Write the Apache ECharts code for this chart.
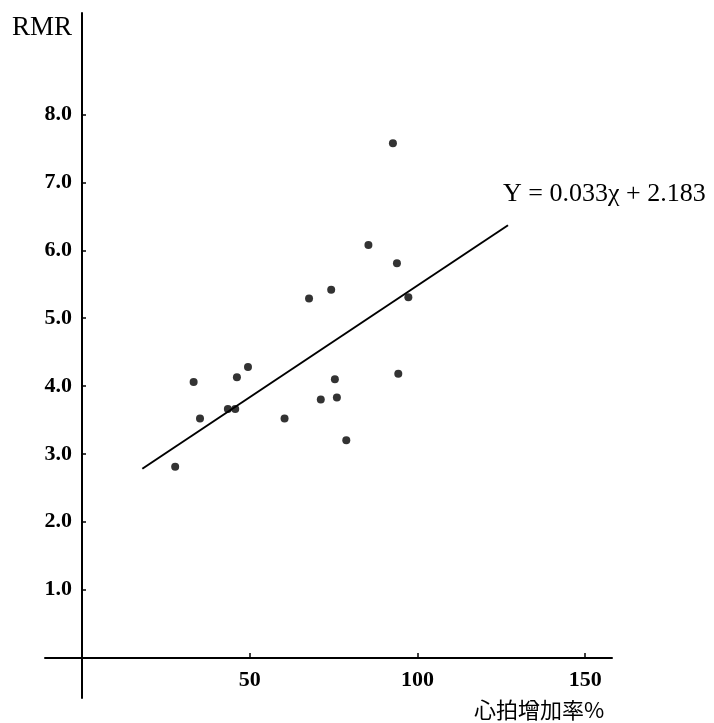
<!DOCTYPE html>
<html>
<head>
<meta charset="utf-8">
<script src="https://cdn.jsdelivr.net/npm/echarts@6/dist/echarts.min.js"></script>
<style>
  html, body { margin: 0; padding: 0; background: #fff; }
  #main { width: 714px; height: 723px; }
</style>
</head>
<body>
<div id="main"></div>
<script>
// 心拍増加率 (%) と RMR の散布データ
var heartRate = [27.8, 33.3, 35.2, 43.5, 45.7, 46.2, 49.5, 60.4, 67.7, 71.2, 74.3, 75.4, 76.0, 78.8, 85.4, 92.7, 93.9, 94.3, 97.3];
var rmr       = [2.81, 4.06, 3.52, 3.66, 3.66, 4.13, 4.28, 3.52, 5.29, 3.80, 5.42, 4.10, 3.83, 3.20, 6.08, 7.58, 5.81, 4.18, 5.31];

// 回帰直線 Y = 0.033x + 2.183 の両端
var lineX = [18, 127];
var lineY = [2.78, 6.37];

var xTicks = [50, 100, 150];
var yTicks = [1, 2, 3, 4, 5, 6, 7, 8];

var points = [];
for (var i = 0; i < heartRate.length; i++) {
    points.push([heartRate[i], rmr[i]]);
}
var fitLine = [];
for (var j = 0; j < lineX.length; j++) {
    fitLine.push([lineX[j], lineY[j]]);
}

var myChart = echarts.init(document.getElementById('main'));

var labelFont = {
    color: '#000',
    fontFamily: 'Liberation Serif',
    fontSize: 22,
    fontWeight: 'bold'
};

// 軸は原点で交差させる (offset で内側へ寄せる)
option = {
    backgroundColor: '#fff',
    animation: false,
    grid: { left: 45, right: 102, top: 13, bottom: 25 },
    xAxis: {
        type: 'value',
        min: -11,
        max: 158,
        offset: -40,
        axisLine: { onZero: false, lineStyle: { color: '#000', width: 2 } },
        axisTick: { inside: true, length: 5, customValues: xTicks, lineStyle: { color: '#000', width: 1.5 } },
        axisLabel: Object.assign({ customValues: xTicks, margin: 11 }, labelFont),
        splitLine: { show: false }
    },
    yAxis: {
        type: 'value',
        min: -0.6,
        max: 9.5,
        offset: -37,
        axisLine: { onZero: false, lineStyle: { color: '#000', width: 2 } },
        axisTick: { inside: true, length: 4, customValues: yTicks, lineStyle: { color: '#000', width: 1.5 } },
        axisLabel: Object.assign({
            customValues: yTicks,
            margin: 10,
            formatter: function (v) { return v.toFixed(1); }
        }, labelFont),
        splitLine: { show: false }
    },
    graphic: [
        {
            type: 'text', left: 12, top: 14,
            style: { text: 'RMR', fill: '#000', font: '27px "Liberation Serif"' }
        },
        {
            type: 'text', left: 503, top: 181,
            style: { text: 'Y = 0.033χ + 2.183', fill: '#000', font: '26px "Liberation Serif"' }
        },
        {
            type: 'text', left: 474, top: 699,
            style: { text: '心拍增加率%', fill: '#000', font: '22px "Noto Sans CJK JP"' }
        }
    ],
    series: [
        {
            type: 'line',
            data: fitLine,
            symbol: 'none',
            lineStyle: { color: '#000', width: 2 }
        },
        {
            type: 'scatter',
            data: points,
            symbolSize: 8,
            itemStyle: { color: '#000' }
        }
    ]
};

myChart.setOption(option);
</script>
</body>
</html>
